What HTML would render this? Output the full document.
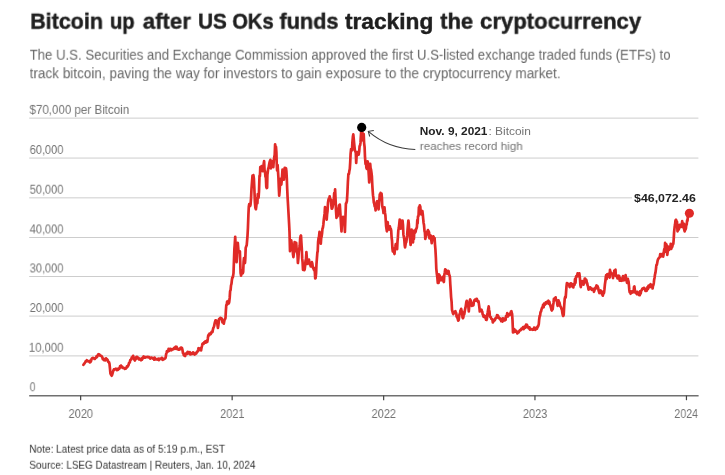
<!DOCTYPE html>
<html><head><meta charset="utf-8"><title>Bitcoin</title>
<style>
html,body{margin:0;padding:0;background:#fff;}
body{width:725px;height:475px;position:relative;overflow:hidden;font-family:"Liberation Sans",sans-serif;}
.t{position:absolute;left:0;top:0;white-space:nowrap;line-height:1;margin:0;transform-origin:0 0;will-change:transform;}
svg{position:absolute;left:0;top:0;}
</style></head><body>

<svg width="725" height="475" viewBox="0 0 725 475">
<line x1="29.2" x2="698.4" y1="118.12" y2="118.12" stroke="#cdcdcd" stroke-width="1"/>
<line x1="29.2" x2="698.4" y1="158.07" y2="158.07" stroke="#cdcdcd" stroke-width="1"/>
<line x1="29.2" x2="698.4" y1="197.85" y2="197.85" stroke="#cdcdcd" stroke-width="1"/>
<line x1="29.2" x2="698.4" y1="237.50" y2="237.50" stroke="#cdcdcd" stroke-width="1"/>
<line x1="29.2" x2="698.4" y1="276.50" y2="276.50" stroke="#cdcdcd" stroke-width="1"/>
<line x1="29.2" x2="698.4" y1="316.10" y2="316.10" stroke="#cdcdcd" stroke-width="1"/>
<line x1="29.2" x2="698.4" y1="355.90" y2="355.90" stroke="#cdcdcd" stroke-width="1"/>
<rect x="632" y="190" width="70" height="14" fill="#fff"/>
<line x1="29.2" x2="698.6" y1="395.65000000000003" y2="395.65000000000003" stroke="#707070" stroke-width="1.45"/>
<line x1="80.65" x2="80.65" y1="395.6" y2="400.2" stroke="#444" stroke-width="1.2"/>
<line x1="232.15" x2="232.15" y1="395.6" y2="400.2" stroke="#444" stroke-width="1.2"/>
<line x1="383.65" x2="383.65" y1="395.6" y2="400.2" stroke="#444" stroke-width="1.2"/>
<line x1="534.95" x2="534.95" y1="395.6" y2="400.2" stroke="#444" stroke-width="1.2"/>
<line x1="686.45" x2="686.45" y1="395.6" y2="400.2" stroke="#444" stroke-width="1.2"/>
<polyline fill="none" stroke="#e02a27" stroke-width="2.7" stroke-linejoin="round" stroke-linecap="round" points="83.4,364.8 83.8,364.1 84.2,363.9 84.7,363.0 85.1,362.3 85.5,361.5 86.0,361.2 86.4,361.3 86.8,360.2 87.2,360.7 87.7,361.2 88.1,361.1 88.5,361.4 88.9,361.5 89.3,360.9 89.8,362.4 90.2,362.2 90.6,361.8 91.0,361.1 91.5,359.2 91.9,358.5 92.3,358.2 92.7,358.0 93.1,357.9 93.6,358.5 94.0,358.5 94.5,359.0 94.9,358.9 95.3,358.0 95.8,357.9 96.2,357.4 96.6,356.2 97.0,357.0 97.5,355.8 97.9,355.6 98.3,354.3 98.7,354.2 99.1,354.3 99.5,354.7 99.9,355.1 100.3,355.7 100.7,355.7 101.1,355.8 101.5,356.2 101.9,356.5 102.3,357.4 102.8,359.0 103.2,358.5 103.6,359.7 104.0,360.2 104.4,360.3 104.9,359.2 105.3,359.8 105.7,360.3 106.1,358.4 106.6,359.2 107.0,359.2 107.4,359.9 107.8,360.4 108.2,361.8 108.7,362.3 109.1,362.4 109.5,363.9 110.0,368.9 110.4,373.2 110.8,374.3 111.3,375.2 111.7,375.7 112.1,374.9 112.6,373.1 113.0,371.7 113.4,370.3 113.8,369.5 114.2,370.0 114.6,369.3 115.0,369.1 115.4,369.0 115.8,368.6 116.3,368.9 116.7,369.2 117.1,370.1 117.6,368.8 118.0,369.8 118.4,368.7 118.8,368.8 119.2,368.8 119.7,367.8 120.1,366.2 120.5,366.5 120.9,365.6 121.3,367.0 121.8,366.7 122.2,366.7 122.6,367.8 123.0,368.0 123.5,367.8 123.9,368.0 124.3,368.3 124.8,368.9 125.2,368.7 125.6,368.6 126.0,368.3 126.5,367.7 126.9,366.3 127.3,367.0 127.7,366.3 128.2,365.6 128.6,364.8 129.0,363.0 129.4,362.7 129.8,362.5 130.2,360.2 130.6,360.2 131.0,359.4 131.4,359.3 131.8,357.3 132.3,358.1 132.7,356.8 133.1,355.8 133.5,356.9 133.9,358.3 134.4,359.7 134.8,360.5 135.2,359.6 135.7,359.3 136.1,357.4 136.5,356.8 136.9,356.9 137.3,358.0 137.7,357.7 138.1,357.6 138.5,358.8 139.0,359.4 139.4,358.7 139.8,358.6 140.2,359.5 140.6,359.8 141.0,360.2 141.4,359.4 141.9,359.7 142.3,357.9 142.8,358.5 143.2,357.2 143.6,356.5 144.1,356.7 144.5,357.4 144.9,357.7 145.3,357.5 145.8,357.1 146.2,357.0 146.6,357.0 147.1,357.2 147.5,356.8 147.9,356.8 148.3,357.2 148.8,357.4 149.2,357.2 149.6,357.7 150.0,357.7 150.4,358.6 150.8,357.8 151.2,357.5 151.7,357.6 152.1,357.9 152.5,358.0 152.9,358.7 153.3,358.2 153.8,358.7 154.2,359.7 154.6,357.5 155.1,358.5 155.5,359.4 155.9,359.4 156.3,359.5 156.8,359.4 157.2,359.0 157.6,359.5 158.0,359.2 158.5,358.8 158.9,360.2 159.3,358.9 159.7,359.1 160.1,358.7 160.6,359.0 161.0,359.0 161.4,359.1 161.8,357.8 162.2,359.0 162.7,359.8 163.1,358.7 163.5,359.4 163.9,358.9 164.4,359.0 164.8,358.5 165.3,358.4 165.7,357.2 166.1,354.3 166.5,353.1 166.9,351.3 167.3,350.9 167.7,351.3 168.2,351.4 168.6,348.8 169.0,351.0 169.4,350.1 169.8,349.1 170.2,350.3 170.6,348.8 171.1,349.7 171.5,350.2 171.9,349.3 172.3,349.3 172.7,349.1 173.1,349.3 173.6,348.5 174.0,348.0 174.5,348.7 174.9,348.1 175.4,346.9 175.8,346.7 176.2,348.9 176.6,346.8 177.0,348.5 177.4,348.2 177.8,348.9 178.2,349.6 178.6,349.6 179.1,349.5 179.5,349.6 180.0,349.0 180.4,347.9 180.8,347.7 181.2,348.9 181.6,347.7 182.0,348.2 182.5,350.1 183.0,353.2 183.4,353.0 183.8,355.2 184.3,355.5 184.7,355.7 185.1,356.1 185.5,354.2 186.0,354.3 186.4,353.2 186.8,353.8 187.2,353.9 187.7,351.9 188.1,352.0 188.5,353.3 188.9,353.3 189.3,352.9 189.8,352.2 190.2,354.5 190.6,354.0 191.0,354.4 191.4,353.6 191.8,353.8 192.2,353.4 192.6,352.7 193.0,353.8 193.4,352.5 193.8,353.9 194.3,354.3 194.7,354.5 195.1,353.7 195.5,354.0 195.9,352.9 196.3,353.4 196.8,352.2 197.2,351.6 197.6,351.7 198.1,350.1 198.5,348.2 198.9,349.0 199.3,349.0 199.8,348.4 200.2,350.3 200.7,350.2 201.1,350.3 201.5,347.8 202.0,346.0 202.4,343.9 202.8,344.1 203.2,343.2 203.6,343.8 204.1,342.4 204.5,342.9 204.9,342.8 205.3,341.4 205.7,342.7 206.1,341.1 206.5,342.3 206.9,340.5 207.3,341.9 207.8,338.7 208.2,335.6 208.7,334.7 209.1,335.4 209.5,333.5 209.9,334.4 210.3,334.1 210.7,334.2 211.1,333.3 211.6,331.9 212.0,331.6 212.5,332.0 212.9,329.6 213.3,328.1 213.8,326.9 214.2,325.8 214.7,323.1 215.1,321.7 215.5,320.3 215.9,320.7 216.3,322.0 216.7,320.7 217.1,321.6 217.5,325.0 217.9,327.9 218.3,325.8 218.7,322.7 219.1,319.0 219.5,318.6 220.0,319.0 220.4,317.8 220.8,318.7 221.2,318.1 221.7,318.5 222.1,320.1 222.5,322.4 223.0,321.7 223.4,322.1 223.8,323.7 224.2,321.5 224.7,319.3 225.1,319.2 225.5,317.8 225.9,310.3 226.3,305.2 226.7,305.2 227.1,301.7 227.5,304.2 228.0,302.7 228.4,300.8 228.8,303.4 229.2,302.1 229.7,297.7 230.1,291.3 230.6,290.0 231.0,285.5 231.5,283.7 231.9,279.9 232.3,277.6 232.7,277.6 233.1,275.9 233.5,273.1 233.9,262.0 234.4,248.7 234.8,243.4 235.2,236.9 235.7,247.7 236.1,254.9 236.6,262.2 237.0,256.5 237.4,245.7 237.8,242.8 238.2,247.5 238.5,251.3 238.9,252.1 239.4,251.1 239.9,251.2 240.2,261.4 240.6,273.1 241.1,275.7 241.5,270.0 242.0,272.3 242.4,273.4 242.8,273.1 243.2,271.8 243.6,261.6 244.0,258.0 244.5,261.6 245.0,263.0 245.3,258.6 245.7,247.9 246.2,246.4 246.7,245.3 247.1,240.7 247.5,235.8 247.9,228.5 248.4,215.0 248.8,206.6 249.2,204.2 249.7,205.6 250.1,206.0 250.5,204.9 251.0,198.8 251.5,188.9 252.0,182.1 252.5,175.5 253.0,176.1 253.4,175.1 253.9,178.8 254.4,189.7 254.9,202.4 255.4,207.8 255.9,209.2 256.3,206.4 256.7,201.2 257.0,198.2 257.4,203.2 257.8,194.0 258.2,198.3 258.6,197.4 259.0,191.3 259.5,175.8 259.9,176.2 260.3,167.0 260.7,168.0 261.2,170.9 261.6,166.2 262.0,169.0 262.4,169.4 262.8,171.2 263.2,168.8 263.7,163.7 264.1,161.1 264.6,171.4 265.0,171.2 265.4,176.3 265.9,177.9 266.3,187.1 266.7,188.1 267.1,187.7 267.4,174.9 267.8,171.8 268.2,168.7 268.7,167.2 269.1,164.7 269.6,162.0 270.0,161.1 270.4,159.8 270.8,168.3 271.2,162.8 271.6,167.0 272.0,162.4 272.4,167.0 272.9,161.2 273.3,167.1 273.8,160.3 274.2,157.7 274.7,154.8 275.1,144.3 275.6,147.9 276.0,146.8 276.4,152.3 276.7,163.2 277.1,170.4 277.6,165.2 278.0,171.2 278.4,177.5 278.8,187.4 279.2,195.7 279.6,191.3 280.1,182.7 280.5,178.8 280.9,181.4 281.3,184.7 281.7,180.8 282.1,175.6 282.5,169.6 283.0,174.6 283.4,176.9 283.9,179.7 284.3,173.0 284.7,167.9 285.1,170.8 285.5,169.7 286.0,168.2 286.4,171.2 286.8,178.4 287.2,188.7 287.6,197.4 288.1,206.0 288.6,215.0 289.1,223.8 289.5,231.9 290.0,251.2 290.4,247.6 290.8,244.2 291.2,240.3 291.7,243.4 292.2,247.0 292.6,248.2 293.0,254.4 293.4,257.1 293.8,253.9 294.2,247.8 294.6,242.0 295.1,246.3 295.6,251.2 296.2,242.8 296.6,248.6 297.0,251.3 297.5,254.9 297.9,263.0 298.4,258.3 298.8,251.9 299.3,248.7 299.7,245.8 300.2,238.3 300.6,236.1 301.0,235.5 301.4,242.6 301.8,248.7 302.2,258.4 302.6,262.2 303.0,269.8 303.4,267.6 303.9,268.4 304.3,270.2 304.7,269.3 305.1,265.8 305.5,261.0 306.0,258.9 306.4,252.1 306.9,259.2 307.4,263.9 307.8,262.8 308.2,262.7 308.6,263.4 309.0,259.7 309.4,262.9 309.9,264.7 310.3,263.0 310.7,266.4 311.1,264.8 311.5,264.7 311.9,262.2 312.3,263.4 312.8,267.2 313.2,268.1 313.6,268.9 314.0,269.9 314.4,268.1 314.8,271.2 315.2,278.5 315.6,278.2 316.1,273.0 316.5,263.8 317.0,257.1 317.4,252.2 317.7,251.6 318.1,242.0 318.6,238.0 319.0,236.9 319.5,231.9 319.9,237.7 320.4,239.8 320.8,243.7 321.2,237.8 321.6,236.5 322.1,233.0 322.5,228.5 322.9,227.8 323.4,224.2 323.8,219.7 324.2,216.7 324.6,213.7 325.0,207.0 325.4,211.3 325.9,213.7 326.3,216.6 326.7,219.6 327.1,214.2 327.5,211.4 328.0,202.7 328.4,200.2 328.8,198.6 329.2,199.8 329.7,196.3 330.1,199.4 330.5,200.7 330.9,199.6 331.3,204.9 331.7,208.7 332.1,208.7 332.5,207.4 333.0,204.8 333.4,203.6 333.8,199.5 334.2,193.2 334.7,197.2 335.1,189.3 335.6,200.0 336.0,210.7 336.5,217.9 336.9,215.5 337.2,216.4 337.6,216.2 338.1,208.7 338.5,210.6 339.0,205.3 339.4,209.0 339.8,204.5 340.2,210.3 340.6,217.2 341.1,225.6 341.5,231.4 341.9,223.7 342.3,219.3 342.7,218.8 343.1,216.9 343.5,218.0 343.9,219.6 344.4,223.0 344.9,231.9 345.4,217.8 345.9,203.6 346.4,202.9 346.9,201.1 347.4,192.9 347.9,181.7 348.4,174.0 348.9,174.1 349.4,170.6 349.8,169.0 350.2,162.6 350.6,153.8 351.1,149.0 351.5,150.1 352.0,150.4 352.4,142.0 352.9,136.6 353.3,134.4 353.7,138.4 354.1,142.8 354.5,147.0 354.9,150.5 355.3,151.2 355.8,152.7 356.2,163.0 356.6,156.0 357.0,155.7 357.4,152.1 357.8,152.4 358.3,152.9 358.7,154.6 359.2,151.3 359.6,146.2 360.1,145.3 360.5,142.9 360.8,137.4 361.2,131.9 361.6,127.3 362.0,131.4 362.5,134.0 362.9,140.3 363.3,140.6 363.7,134.0 364.1,142.8 364.6,147.1 365.0,157.0 365.5,163.9 365.9,161.6 366.4,167.8 366.8,168.9 367.2,167.3 367.6,161.3 368.0,163.0 368.4,168.8 368.8,175.1 369.2,182.4 369.7,174.3 370.2,163.9 370.6,168.3 371.0,169.4 371.4,172.3 371.9,176.5 372.3,185.0 372.6,189.8 373.0,195.2 373.4,197.8 373.8,202.5 374.2,203.6 374.7,206.5 375.1,206.5 375.6,210.3 376.0,205.0 376.4,204.9 376.8,201.7 377.2,201.1 377.7,201.4 378.1,206.4 378.6,209.5 379.0,203.3 379.4,199.6 379.8,194.3 380.2,195.3 380.6,192.9 381.1,199.1 381.5,193.5 381.9,197.5 382.2,205.5 382.6,207.8 383.1,209.5 383.5,213.0 384.0,212.0 384.5,207.4 385.0,212.9 385.4,215.3 385.8,221.4 386.1,226.1 386.5,228.9 386.9,231.3 387.3,225.0 387.7,222.1 388.2,228.0 388.7,228.9 389.1,229.6 389.5,229.1 389.9,226.4 390.3,228.8 390.8,228.9 391.2,230.6 391.6,237.5 392.0,240.5 392.4,248.3 392.8,251.4 393.2,248.7 393.7,251.9 394.1,252.5 394.5,254.0 395.0,247.9 395.4,246.2 395.8,244.0 396.2,247.8 396.7,247.4 397.1,249.1 397.5,241.5 397.9,237.2 398.3,230.6 398.8,228.1 399.2,224.7 399.7,219.6 400.1,219.9 400.4,226.9 400.8,228.6 401.2,227.2 401.6,225.0 402.1,223.3 402.5,220.5 403.0,225.2 403.4,234.4 403.9,237.3 404.3,239.4 404.7,245.2 405.1,247.4 405.5,244.9 405.8,242.8 406.2,242.4 406.7,239.2 407.1,235.9 407.6,228.9 408.0,224.7 408.4,220.5 408.8,223.6 409.2,231.0 409.6,233.9 410.1,239.3 410.6,244.9 411.1,237.9 411.6,229.7 412.1,236.8 412.5,240.3 413.0,242.4 413.4,237.5 413.9,238.9 414.3,230.6 414.8,230.9 415.2,232.6 415.7,231.4 416.1,228.7 416.5,228.5 416.9,227.2 417.3,220.0 417.6,223.5 418.0,216.2 418.5,216.0 418.9,207.4 419.4,207.0 419.8,205.4 420.3,206.8 420.7,212.0 421.1,214.3 421.5,210.6 422.0,211.3 422.4,211.2 422.8,214.5 423.2,218.8 423.6,223.0 424.0,224.9 424.5,231.0 424.9,232.3 425.3,239.0 425.7,237.2 426.1,236.2 426.6,234.8 427.0,232.2 427.4,231.6 427.9,230.1 428.3,231.9 428.7,231.4 429.1,232.4 429.4,238.3 429.8,237.3 430.3,237.9 430.8,235.6 431.2,239.2 431.7,243.2 432.1,240.6 432.5,238.5 432.9,238.1 433.3,236.4 433.8,237.4 434.2,238.6 434.6,238.1 435.0,244.5 435.4,249.1 435.9,258.2 436.3,268.6 436.8,273.5 437.3,277.2 437.8,282.8 438.2,280.9 438.6,282.9 438.9,274.4 439.3,275.2 439.7,275.7 440.1,278.0 440.6,279.2 441.0,280.3 441.4,280.0 441.9,278.3 442.3,278.3 442.7,276.9 443.1,278.7 443.5,281.4 443.9,282.0 444.3,275.1 444.8,272.2 445.2,269.3 445.6,270.3 446.0,269.9 446.5,270.9 446.9,273.5 447.3,273.8 447.8,271.3 448.2,272.6 448.6,271.0 449.0,274.1 449.5,275.4 449.9,276.9 450.3,284.3 450.7,290.2 451.1,297.1 451.6,301.9 452.0,309.8 452.4,311.2 452.9,313.1 453.3,314.0 453.7,312.8 454.1,312.6 454.6,312.9 455.0,311.5 455.4,311.1 455.8,313.2 456.2,313.1 456.6,316.5 457.0,315.6 457.4,317.8 457.8,319.0 458.2,320.7 458.7,320.0 459.1,316.5 459.6,314.0 460.0,313.7 460.4,310.7 460.8,310.2 461.2,308.9 461.6,311.2 462.0,311.7 462.5,317.3 462.9,318.2 463.3,317.6 463.8,313.5 464.2,314.5 464.6,312.3 465.0,309.6 465.5,307.7 465.9,305.1 466.3,302.2 466.7,300.9 467.1,302.8 467.6,305.2 468.0,303.9 468.4,307.1 468.8,311.5 469.3,304.9 469.8,300.5 470.2,299.5 470.6,300.3 471.0,302.8 471.4,303.0 471.8,305.8 472.1,305.2 472.5,305.6 473.0,304.5 473.4,305.3 473.9,301.4 474.3,300.4 474.8,299.8 475.2,300.7 475.6,299.7 476.0,300.5 476.4,298.8 476.8,298.8 477.2,300.7 477.6,300.5 478.0,301.9 478.5,301.3 478.9,303.9 479.4,307.5 479.8,311.5 480.2,310.5 480.6,311.1 481.1,310.1 481.5,309.8 481.9,311.0 482.3,311.9 482.7,314.6 483.1,314.8 483.5,316.7 484.0,315.5 484.4,317.2 484.9,316.1 485.3,317.4 485.7,318.3 486.1,319.8 486.5,319.9 486.9,318.9 487.3,314.4 487.7,312.3 488.2,309.3 488.7,306.4 489.1,310.0 489.5,311.6 489.9,316.5 490.3,317.1 490.8,317.1 491.2,318.7 491.6,319.0 492.0,319.1 492.4,319.4 492.8,322.4 493.2,321.8 493.6,321.4 494.0,320.0 494.4,319.9 494.8,320.3 495.2,318.8 495.7,318.0 496.1,318.2 496.5,317.9 497.0,315.2 497.4,315.4 497.8,315.3 498.2,316.1 498.6,317.8 499.1,317.7 499.5,318.7 499.9,319.2 500.4,318.6 500.8,319.7 501.3,321.2 501.7,319.9 502.1,318.9 502.5,321.6 503.0,318.4 503.4,318.7 503.8,319.0 504.3,319.3 504.7,320.4 505.2,318.5 505.6,319.9 506.0,316.2 506.4,317.1 506.8,315.6 507.2,313.1 507.6,314.1 508.0,316.5 508.5,314.3 508.9,314.7 509.3,314.8 509.7,314.9 510.1,313.5 510.6,314.0 511.0,311.5 511.4,311.1 511.7,312.8 512.1,314.0 512.5,320.1 513.0,332.5 513.4,332.1 513.9,330.0 514.3,329.2 514.7,330.4 515.1,331.8 515.6,330.4 516.0,330.8 516.5,331.5 516.9,332.1 517.4,333.4 517.8,332.2 518.2,331.8 518.6,332.4 519.0,331.4 519.4,330.8 519.8,330.4 520.2,329.8 520.6,330.3 521.1,329.6 521.5,328.6 521.9,328.3 522.3,328.8 522.7,328.0 523.1,327.1 523.6,329.2 524.0,328.3 524.4,327.8 524.8,326.5 525.3,327.8 525.7,326.7 526.1,324.5 526.6,326.8 527.0,324.9 527.4,326.0 527.9,327.4 528.3,327.6 528.7,328.3 529.1,328.3 529.5,327.3 530.0,329.6 530.4,328.9 530.8,328.8 531.2,329.2 531.6,329.5 532.0,329.4 532.5,329.9 532.9,329.1 533.3,329.4 533.7,329.5 534.1,327.5 534.5,328.7 535.0,329.5 535.4,329.8 535.8,328.2 536.2,328.3 536.6,327.7 537.0,328.7 537.5,326.5 537.9,326.9 538.3,325.8 538.8,324.0 539.2,319.2 539.7,315.8 540.1,315.6 540.5,312.1 541.0,311.6 541.4,309.9 541.8,308.5 542.2,307.5 542.7,307.3 543.1,304.8 543.6,307.3 544.0,303.7 544.5,303.7 544.9,304.7 545.4,304.0 545.8,302.3 546.3,303.6 546.7,303.2 547.2,301.7 547.6,301.5 548.0,302.6 548.5,300.7 548.9,303.9 549.4,301.7 549.8,304.0 550.2,304.7 550.6,306.3 551.1,308.0 551.5,309.9 551.9,310.5 552.3,309.4 552.7,309.0 553.1,305.2 553.5,302.9 553.9,298.9 554.3,300.4 554.8,298.1 555.2,298.1 555.6,297.3 556.0,300.2 556.4,300.6 556.8,300.2 557.2,303.2 557.6,305.9 558.1,305.4 558.5,300.4 559.0,302.4 559.4,302.3 559.8,304.0 560.2,305.9 560.7,306.9 561.1,307.4 561.5,309.0 562.0,310.0 562.4,313.1 562.8,314.9 563.2,315.9 563.7,314.9 564.2,305.7 564.7,298.9 565.2,296.9 565.7,297.3 566.1,291.8 566.5,286.3 566.9,283.2 567.3,285.0 567.6,284.2 568.0,284.9 568.4,283.8 568.8,284.0 569.2,284.8 569.6,287.1 570.0,285.7 570.4,285.2 570.8,283.4 571.2,283.4 571.6,283.9 572.0,285.5 572.5,286.6 572.9,285.5 573.3,287.5 573.8,284.0 574.2,284.3 574.6,284.6 575.0,279.1 575.5,283.0 575.9,277.3 576.3,276.2 576.7,275.9 577.1,276.4 577.6,273.3 578.0,275.0 578.4,276.0 578.9,275.6 579.3,273.3 579.7,276.2 580.1,280.2 580.4,285.1 580.8,287.1 581.3,282.6 581.7,284.3 582.2,281.2 582.6,282.6 583.1,284.1 583.5,284.6 583.9,283.2 584.3,282.5 584.7,278.7 585.2,278.7 585.6,280.5 586.1,279.6 586.5,280.5 586.9,283.5 587.2,282.9 587.6,285.5 588.0,286.3 588.5,289.6 588.9,288.9 589.3,289.2 589.7,288.9 590.2,287.4 590.6,287.8 591.1,288.9 591.5,288.5 591.9,289.8 592.3,289.2 592.7,289.4 593.1,288.8 593.5,289.4 593.9,291.9 594.3,290.8 594.7,289.2 595.2,288.0 595.6,288.8 596.1,286.6 596.5,285.5 596.9,285.8 597.4,286.0 597.8,287.0 598.2,288.0 598.6,290.5 599.0,291.8 599.4,293.0 599.8,290.6 600.3,291.9 600.7,290.5 601.1,291.7 601.5,291.3 602.0,294.5 602.4,294.2 602.8,295.6 603.2,293.7 603.6,293.6 604.0,292.9 604.4,289.7 604.9,284.5 605.3,281.8 605.8,277.0 606.2,275.1 606.6,279.1 607.1,274.4 607.5,274.5 607.9,276.4 608.4,273.8 608.8,276.0 609.2,275.0 609.6,277.6 610.0,269.9 610.4,272.3 610.8,272.3 611.2,273.8 611.6,273.7 612.1,273.6 612.5,275.3 613.0,278.1 613.4,274.9 613.9,274.5 614.3,270.7 614.7,273.0 615.1,270.3 615.5,269.7 615.8,275.9 616.2,276.2 616.6,275.5 617.1,276.7 617.5,278.5 618.0,277.0 618.4,277.0 618.8,275.7 619.2,275.9 619.7,280.6 620.1,279.6 620.5,280.6 620.9,278.5 621.4,280.8 621.8,280.3 622.2,280.5 622.6,279.6 623.0,276.2 623.5,278.8 623.9,280.3 624.3,279.8 624.8,279.8 625.2,278.4 625.6,275.2 626.1,279.1 626.5,279.8 627.0,282.9 627.4,279.6 627.8,278.8 628.1,280.2 628.5,281.2 628.9,284.9 629.3,289.7 629.7,292.2 630.1,291.7 630.6,293.8 631.0,291.4 631.5,292.8 631.9,292.5 632.3,291.7 632.8,292.4 633.2,291.2 633.6,291.9 634.0,287.0 634.4,286.3 634.8,290.0 635.2,291.2 635.6,293.0 636.0,292.3 636.5,293.3 636.9,294.2 637.4,291.8 637.8,293.0 638.2,293.3 638.6,294.5 639.0,295.0 639.4,294.3 639.8,295.2 640.3,291.0 640.7,293.6 641.2,290.5 641.6,290.4 642.0,289.5 642.4,288.6 642.8,288.8 643.2,288.0 643.6,288.0 644.1,287.8 644.5,288.7 645.0,289.5 645.4,290.8 645.8,289.7 646.2,288.8 646.7,290.8 647.1,289.7 647.5,287.2 648.0,288.9 648.4,285.8 648.9,286.8 649.3,285.5 649.7,287.2 650.1,285.6 650.6,284.2 651.0,285.1 651.4,286.0 651.8,287.0 652.2,285.4 652.6,288.5 653.0,285.8 653.4,285.0 653.8,282.9 654.2,279.4 654.6,277.4 655.0,274.5 655.5,272.4 655.9,269.3 656.4,265.0 656.8,265.0 657.2,263.0 657.7,260.2 658.1,259.2 658.5,258.7 658.9,257.9 659.4,257.4 659.8,257.2 660.2,254.2 660.6,256.6 661.1,255.5 661.5,255.4 662.0,254.9 662.4,253.8 662.7,256.0 663.1,256.6 663.5,254.9 663.9,251.3 664.3,249.0 664.7,251.9 665.1,242.9 665.6,246.4 666.0,246.0 666.4,244.2 666.9,250.5 667.3,254.8 667.7,251.6 668.1,246.5 668.5,250.1 669.0,249.9 669.4,248.2 669.8,247.5 670.3,248.8 670.7,243.8 671.2,249.0 671.6,247.4 672.0,247.2 672.5,245.7 672.9,243.8 673.3,244.0 673.7,239.3 674.1,232.2 674.6,227.3 675.0,224.8 675.5,220.4 676.0,219.8 676.5,221.2 677.0,221.8 677.5,231.3 677.9,230.2 678.4,229.6 678.8,229.6 679.2,227.1 679.6,224.9 680.0,226.2 680.4,227.1 680.8,225.4 681.3,224.3 681.7,225.1 682.2,221.2 682.6,227.2 683.0,223.3 683.4,227.1 683.8,223.7 684.2,229.6 684.7,231.4 685.1,228.8 685.5,229.6 685.9,228.3 686.3,224.4 686.7,224.6 687.1,220.4 687.5,220.8 687.9,216.2 688.3,213.5 688.8,210.8 689.2,211.8 689.6,213.1"/>
<circle cx="689.4" cy="213.2" r="4.55" fill="#e02a27"/>
<circle cx="361.7" cy="127.4" r="4.6" fill="#000"/>
<path d="M415.3 149.4 Q388.6 148.7 368.3 131.3" fill="none" stroke="#3a3a3a" stroke-width="1.05"/>
<path d="M373.8 130.4 L368.3 131.3 L369.7 136.5" fill="none" stroke="#3a3a3a" stroke-width="1.05"/>
</svg>
<div class="t" id="tw0" style="font-size:22.3px;color:#1f1f1f;transform:translate(30.24px,10.70px) scaleX(0.9616);font-weight:bold;-webkit-text-stroke:0.45px #1f1f1f;">Bitcoin</div>
<div class="t" id="tw1" style="font-size:22.3px;color:#1f1f1f;transform:translate(109.89px,10.70px) scaleX(0.9095);font-weight:bold;-webkit-text-stroke:0.45px #1f1f1f;">up</div>
<div class="t" id="tw2" style="font-size:22.3px;color:#1f1f1f;transform:translate(142.80px,10.70px) scaleX(0.9928);font-weight:bold;-webkit-text-stroke:0.45px #1f1f1f;">after</div>
<div class="t" id="tw3" style="font-size:22.3px;color:#1f1f1f;transform:translate(198.07px,10.70px) scaleX(0.9312);font-weight:bold;-webkit-text-stroke:0.45px #1f1f1f;">US</div>
<div class="t" id="tw4" style="font-size:22.3px;color:#1f1f1f;transform:translate(232.30px,10.70px) scaleX(0.9000);font-weight:bold;-webkit-text-stroke:0.45px #1f1f1f;">OKs</div>
<div class="t" id="tw5" style="font-size:22.3px;color:#1f1f1f;transform:translate(279.40px,10.70px) scaleX(0.9737);font-weight:bold;-webkit-text-stroke:0.45px #1f1f1f;">funds</div>
<div class="t" id="tw6" style="font-size:22.3px;color:#1f1f1f;transform:translate(344.90px,10.70px) scaleX(1.0195);font-weight:bold;-webkit-text-stroke:0.45px #1f1f1f;">tracking</div>
<div class="t" id="tw7" style="font-size:22.3px;color:#1f1f1f;transform:translate(440.20px,10.70px) scaleX(0.9835);font-weight:bold;-webkit-text-stroke:0.45px #1f1f1f;">the</div>
<div class="t" id="tw8" style="font-size:22.3px;color:#1f1f1f;transform:translate(480.00px,10.70px) scaleX(0.9924);font-weight:bold;-webkit-text-stroke:0.45px #1f1f1f;">cryptocurrency</div>
<div class="t" id="s1" style="font-size:15.2px;color:#696969;transform:translate(29.60px,46.70px) scaleX(0.8689);">The U.S. Securities and Exchange Commission approved the first U.S-listed exchange traded funds (ETFs) to</div>
<div class="t" id="s2" style="font-size:15.2px;color:#696969;transform:translate(29.60px,65.20px) scaleX(0.8921);">track bitcoin, paving the way for investors to gain exposure to the cryptocurrency market.</div>
<div class="t" id="y0" style="font-size:13.4px;color:#737373;transform:translate(29.50px,102.90px) scaleX(0.8639);">$70,000 per Bitcoin</div>
<div class="t" id="y1" style="font-size:13.4px;color:#737373;transform:translate(29.70px,142.97px) scaleX(0.8220);">60,000</div>
<div class="t" id="y2" style="font-size:13.4px;color:#737373;transform:translate(29.70px,182.75px) scaleX(0.8220);">50,000</div>
<div class="t" id="y3" style="font-size:13.4px;color:#737373;transform:translate(29.70px,222.40px) scaleX(0.8220);">40,000</div>
<div class="t" id="y4" style="font-size:13.4px;color:#737373;transform:translate(29.70px,261.40px) scaleX(0.8220);">30,000</div>
<div class="t" id="y5" style="font-size:13.4px;color:#737373;transform:translate(29.70px,301.00px) scaleX(0.8220);">20,000</div>
<div class="t" id="y6" style="font-size:13.4px;color:#737373;transform:translate(28.86px,340.80px) scaleX(0.8428);">10,000</div>
<div class="t" id="y7" style="font-size:13.4px;color:#737373;transform:translate(29.70px,380.20px) scaleX(0.7857);">0</div>
<div class="t" id="x0" style="font-size:13.4px;color:#737373;transform:translate(68.55px,407.00px) scaleX(0.8214);">2020</div>
<div class="t" id="x1" style="font-size:13.4px;color:#737373;transform:translate(220.05px,407.00px) scaleX(0.8214);">2021</div>
<div class="t" id="x2" style="font-size:13.4px;color:#737373;transform:translate(371.55px,407.00px) scaleX(0.8214);">2022</div>
<div class="t" id="x3" style="font-size:13.4px;color:#737373;transform:translate(522.85px,407.00px) scaleX(0.8214);">2023</div>
<div class="t" id="x4" style="font-size:13.4px;color:#737373;transform:translate(674.35px,407.00px) scaleX(0.7943);">2024</div>
<div class="t" id="a1b" style="font-size:11.8px;color:#222;transform:translate(419.80px,126.00px) scaleX(1.0050);font-weight:bold;">Nov. 9, 2021</div>
<div class="t" id="a1" style="font-size:11.8px;color:#737373;transform:translate(488.49px,126.00px) scaleX(1.0098);">: Bitcoin</div>
<div class="t" id="a2" style="font-size:11.8px;color:#737373;transform:translate(419.80px,140.90px) scaleX(0.9865);">reaches record high</div>
<div class="t" id="val" style="font-size:11.8px;color:#222;transform:translate(634.10px,193.20px) scaleX(1.0457);font-weight:bold;">$46,072.46</div>
<div class="t" id="n1" style="font-size:11.2px;color:#333;transform:translate(29.30px,443.70px) scaleX(0.8994);">Note: Latest price data as of 5:19 p.m., EST</div>
<div class="t" id="n2" style="font-size:11.2px;color:#333;transform:translate(29.30px,459.70px) scaleX(0.8875);">Source: LSEG Datastream | Reuters, Jan. 10, 2024</div>
</body></html>
